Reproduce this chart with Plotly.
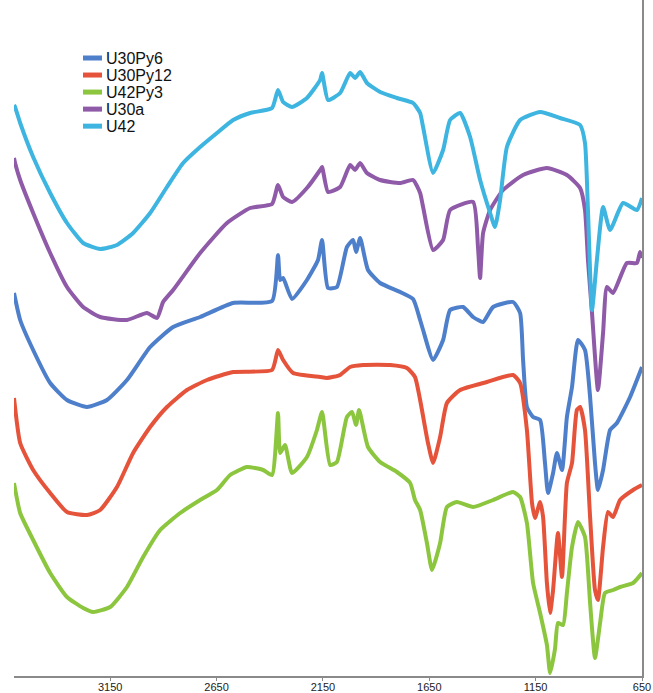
import plotly.graph_objects as go

# FTIR spectra, wavenumber (cm-1) vs. offset transmittance (a.u.)
u42_wn = [3602, 3597, 3573, 3512, 3432, 3353, 3277, 3197, 3118, 3042, 2962, 2883, 2807, 2727, 2648,
          2572, 2492, 2389, 2361, 2337, 2295, 2225, 2163, 2154, 2126, 2069, 2022, 1999, 1975, 1943,
          1881, 1802, 1726, 1693, 1679, 1632, 1585, 1552, 1505, 1458, 1411, 1364, 1341, 1317, 1285,
          1223, 1129, 1035, 941, 918, 904, 885, 862, 833, 800, 739, 674, 650]
u42_t = [578, 576, 560, 526, 490, 460, 440, 434, 438, 450, 470, 496, 520, 536, 550,
         563, 570, 575, 593, 581, 576, 585, 603, 610, 583, 590, 610, 605, 611, 600,
         591, 585, 580, 570, 556, 510, 533, 563, 570, 546, 503, 470, 456, 483, 536,
         563, 571, 565, 558, 540, 473, 373, 423, 476, 453, 480, 473, 485]

u30a_wn = [3602, 3597, 3573, 3512, 3432, 3353, 3277, 3197, 3071, 2977, 2930, 2901, 2854, 2727, 2601,
           2492, 2389, 2361, 2337, 2295, 2225, 2163, 2154, 2126, 2069, 2022, 1999, 1975, 1943, 1881,
           1787, 1726, 1693, 1679, 1632, 1585, 1552, 1444, 1421, 1411, 1397, 1364, 1303, 1209, 1097,
           1003, 941, 918, 904, 885, 857, 833, 815, 786, 721, 674, 659, 650]
u30a_t = [525, 520, 503, 470, 430, 396, 376, 366, 363, 370, 365, 381, 393, 430, 460,
          475, 479, 498, 486, 481, 495, 513, 516, 491, 496, 518, 513, 520, 510, 503,
          500, 503, 490, 476, 433, 443, 473, 481, 436, 405, 450, 473, 493, 508, 515,
          508, 495, 473, 423, 370, 293, 350, 396, 390, 420, 420, 431, 425]

u30py6_wn = [3602, 3573, 3512, 3432, 3353, 3259, 3165, 3071, 2962, 2854, 2727, 2572, 2389, 2361, 2351,
             2337, 2295, 2225, 2173, 2154, 2126, 2084, 2037, 2008, 1994, 1975, 1938, 1881, 1787, 1726,
             1693, 1679, 1632, 1585, 1552, 1491, 1444, 1397, 1350, 1256, 1223, 1209, 1191, 1162, 1129,
             1106, 1092, 1068, 1050, 1026, 1003, 979, 951, 918, 894, 871, 857, 833, 800, 768, 706, 650]
u30py6_t = [390, 363, 333, 300, 283, 276, 283, 303, 336, 356, 366, 380, 382, 428, 403,
            405, 384, 403, 423, 443, 395, 396, 436, 443, 431, 445, 413, 400, 391, 384,
            363, 353, 323, 343, 373, 376, 366, 361, 376, 381, 370, 323, 276, 266, 263,
            220, 190, 210, 230, 213, 266, 296, 343, 333, 286, 220, 193, 213, 253, 260, 286, 316]

u30py12_wn = [3602, 3573, 3512, 3432, 3353, 3259, 3197, 3118, 3042, 2962, 2883, 2789, 2695, 2572, 2389,
              2361, 2337, 2290, 2163, 2131, 2069, 2022, 1961, 1834, 1755, 1717, 1693, 1656, 1632, 1599,
              1567, 1505, 1379, 1256, 1223, 1191, 1167, 1153, 1129, 1115, 1097, 1082, 1068, 1045, 1026,
              1003, 979, 956, 941, 918, 894, 871, 857, 833, 810, 786, 753, 692, 650]
u30py12_t = [285, 240, 213, 190, 171, 168, 173, 196, 230, 256, 276, 293, 303, 311, 313,
             333, 323, 310, 306, 305, 308, 316, 318, 318, 315, 306, 283, 240, 220, 246,
             280, 293, 301, 308, 300, 253, 180, 165, 181, 166, 100, 70, 93, 150, 106,
             200, 220, 273, 276, 253, 166, 93, 83, 136, 171, 166, 183, 193, 198]

u42py3_wn = [3602, 3573, 3512, 3432, 3353, 3277, 3230, 3150, 3071, 2995, 2915, 2821, 2727, 2648, 2586,
             2507, 2431, 2389, 2361, 2351, 2328, 2295, 2225, 2178, 2154, 2116, 2084, 2037, 2013, 1994,
             1980, 1938, 1881, 1802, 1740, 1717, 1693, 1661, 1637, 1599, 1567, 1520, 1444, 1350, 1256,
             1223, 1191, 1162, 1129, 1097, 1082, 1059, 1045, 1021, 1003, 979, 951, 918, 894, 871,
             847, 824, 786, 753, 692, 650]
u42py3_t = [200, 170, 143, 110, 86, 75, 71, 76, 96, 126, 153, 170, 183, 193, 208,
            216, 213, 208, 270, 230, 238, 210, 226, 253, 271, 218, 221, 266, 271, 258,
            273, 236, 221, 211, 200, 183, 173, 140, 113, 140, 176, 181, 176, 183, 191,
            186, 160, 100, 70, 38, 10, 34, 60, 58, 90, 136, 161, 146, 80, 25,
            60, 90, 93, 96, 100, 110]

series_names = ["U30Py6", "U30Py12", "U42Py3", "U30a", "U42"]
series_x = [u30py6_wn, u30py12_wn, u42py3_wn, u30a_wn, u42_wn]
series_y = [u30py6_t, u30py12_t, u42py3_t, u30a_t, u42_t]
series_colors = ["#4e7fcb", "#e5533a", "#8cc63f", "#8f5aa8", "#3db5e0"]

tick_vals = [3150, 2650, 2150, 1650, 1150, 650]
tick_text = ["3150", "2650", "2150", "1650", "1150", "650"]

fig = go.Figure()
for name, xs, ys, col in zip(series_names, series_x, series_y, series_colors):
    fig.add_trace(go.Scatter(
        x=xs, y=ys, name=name, mode="lines",
        line=dict(color=col, width=4, shape="spline", smoothing=0.5),
        showlegend=False,
    ))

# legend drawn as short line samples with labels at the upper left
leg_x0, leg_x1, leg_tx = 0.1099, 0.1401, 0.1433
leg_top, leg_step = 0.9142, 0.0252
for i, (name, col) in enumerate(zip(series_names, series_colors)):
    yy = leg_top - i * leg_step
    fig.add_shape(type="line", xref="paper", yref="paper",
                  x0=leg_x0, x1=leg_x1, y0=yy, y1=yy,
                  line=dict(color=col, width=5))
    fig.add_annotation(xref="paper", yref="paper", x=leg_tx, y=yy,
                       text=name, showarrow=False, xanchor="left", yanchor="middle",
                       font=dict(family="Liberation Sans, Arial, sans-serif", size=16, color="#111111"))

fig.update_layout(
    width=653, height=693,
    margin=dict(l=14, r=11, t=0, b=17),
    paper_bgcolor="white", plot_bgcolor="white",
    xaxis=dict(range=[3602, 650], tickvals=tick_vals, ticktext=tick_text,
               showline=True, linecolor="#8a8a8a", linewidth=2,
               ticks="outside", ticklen=3, tickcolor="#8a8a8a", tickwidth=1,
               ticklabelstandoff=-3,
               showgrid=False, zeroline=False, automargin=False,
               tickfont=dict(family="Liberation Sans, Arial, sans-serif", size=11, color="#222222")),
    yaxis=dict(range=[7, 683], side="right", showline=True, linecolor="#8a8a8a", linewidth=2,
               showticklabels=False, ticks="", showgrid=False, zeroline=False, automargin=False),
)

fig.write_html("out.html")
